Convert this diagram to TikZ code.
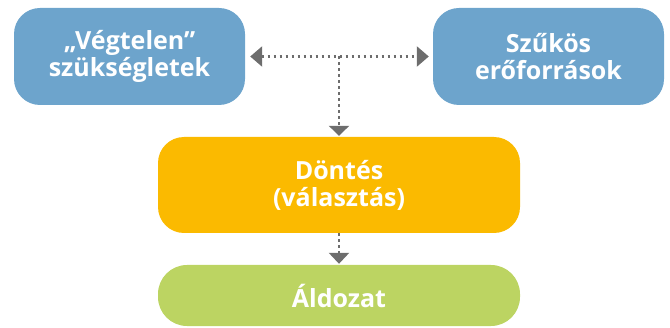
\documentclass[tikz,border=0pt]{standalone}
\usepackage{fontspec}
\setmainfont{Open Sans}
\usetikzlibrary{arrows.meta}
\definecolor{cblue}{RGB}{109,164,204}
\definecolor{corange}{RGB}{251,186,0}
\definecolor{cgreen}{RGB}{188,212,98}
\definecolor{cgray}{RGB}{109,109,109}
\begin{document}
\begin{tikzpicture}[x=1pt,y=1pt,
  box/.style={rounded corners=26pt, inner sep=0pt, align=center,
    text=white, font=\fontsize{25}{27}\selectfont\bfseries},
  conn/.style={cgray, line width=2.5pt, dash pattern=on 2.5pt off 3.5pt}]
\useasboundingbox (0,0) rectangle (670,327);
\node[box, fill=cblue, minimum width=231pt, minimum height=97pt] (veg) at (129.5,270.5) {„Végtelen”\\szükségletek};
\node[box, fill=cblue, minimum width=231pt, minimum height=97pt] (szuk) at (548.5,270.5) {Szűkös\\erőforrások};
\node[box, fill=corange, minimum width=362pt, minimum height=96pt] (dont) at (339,142) {Döntés\\(választás)};
\node[box, fill=cgreen, minimum width=362pt, minimum height=61pt, rounded corners=29pt] (ald) at (339,31.5) {Áldozat};
\draw[conn, {Triangle[width=20pt,length=12pt]}-{Triangle[width=20pt,length=12pt]}, shorten <=5pt, shorten >=4pt] (veg.east) -- coordinate[pos=0.5] (mid) (szuk.west);
\draw[conn, -{Triangle[width=20pt,length=10pt]}, shorten >=1pt] (mid) -- (dont.north);
\draw[conn, -{Triangle[width=20pt,length=11pt]}, shorten >=1pt] (dont.south) -- (ald.north);
\end{tikzpicture}
\end{document}
